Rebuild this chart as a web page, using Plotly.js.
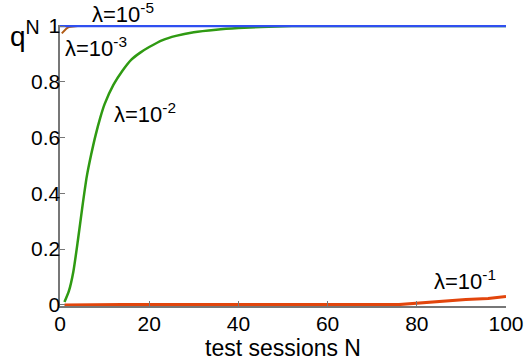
<!DOCTYPE html>
<html>
<head>
<meta charset="utf-8">
<script src="https://cdn.plot.ly/plotly-3.0.1.min.js"></script>
<style>
html,body{margin:0;padding:0;background:#fff;}
#chart{width:526px;height:364px;}
</style>
</head>
<body>
<div id="chart"></div>
<script>
// lambda = 1e-5
const nBlue = [0, 100];
const qBlue = [1, 1];
// lambda = 1e-3
const nBrown = [0.4, 1, 1.5, 2, 4, 100];
const qBrown = [0.974, 0.985, 0.992, 0.997, 1, 1];
// lambda = 1e-2
const nGreen = [1, 2, 3, 4, 5, 6, 7, 8, 9, 10, 12, 14, 16, 18, 20, 23, 26, 30, 35, 40, 45, 52, 60, 100];
const qGreen = [0.01, 0.05, 0.12, 0.23, 0.35, 0.46, 0.54, 0.61, 0.67, 0.72, 0.79, 0.84, 0.88, 0.905, 0.925, 0.95, 0.965, 0.978, 0.987, 0.993, 0.997, 1.0, 1.0, 1.0];
// lambda = 1e-1
const nRed = [1, 14, 76, 80, 86, 91, 96, 100];
const qRed = [0, 0.001, 0.001, 0.006, 0.013, 0.019, 0.023, 0.03];

const xTicks = [0, 20, 40, 60, 80, 100];
const yTicks = [0, 0.2, 0.4, 0.6, 0.8, 1];
const yTickText = ['0', '0.2', '0.4', '0.6', '0.8', '1'];

const labels = ['λ=10<sup>-5</sup>', 'λ=10<sup>-3</sup>', 'λ=10<sup>-2</sup>', 'λ=10<sup>-1</sup>'];
const labelN = [6.7, 0.7, 11.7, 83.4];
const labelQ = [1.046, 0.926, 0.689, 0.088];

const font = 'Liberation Sans, Arial, sans-serif';

const traces = [
  {x: nBrown, y: qBrown, mode: 'lines', line: {color: '#b05a14', width: 2}},
  {x: nGreen, y: qGreen, mode: 'lines', line: {color: '#2f9a12', width: 2.5, shape: 'spline', smoothing: 0.6}},
  {x: nBlue, y: qBlue, mode: 'lines', line: {color: '#2f4ff0', width: 2.5}},
  {x: nRed, y: qRed, mode: 'lines', line: {color: '#e2450c', width: 3}}
];

const M = {l: 60, r: 20, t: 25, b: 58.4};
const plotW = 526 - M.l - M.r, plotH = 364 - M.t - M.b;
const yLo = -0.004, yHi = 1.004;
// data -> paper helpers (so labels above the range are still drawn)
const toPaperX = v => v / 100;
const toPaperY = v => (v - yLo) / (yHi - yLo);

const annotations = labels.map((t, i) => ({
  x: toPaperX(labelN[i]), y: toPaperY(labelQ[i]), xref: 'paper', yref: 'paper', text: t, showarrow: false,
  xanchor: 'left', yanchor: 'middle', font: {family: font, size: 22, color: '#000'}
}));
annotations.push({
  x: (8 - M.l) / plotW, y: (plotH + M.t - 34) / plotH, xref: 'paper', yref: 'paper',
  xanchor: 'left', yanchor: 'middle',
  text: 'q<sup>N</sup>', showarrow: false, font: {family: font, size: 28, color: '#000'}
});

const layout = {
  width: 526, height: 364,
  margin: {l: M.l, r: M.r, t: M.t, b: M.b, pad: 0},
  paper_bgcolor: '#fff', plot_bgcolor: '#fff',
  showlegend: false,
  font: {family: font, size: 21, color: '#000'},
  xaxis: {
    range: [0, 100], tickvals: xTicks, ticks: 'inside', ticklen: 5, tickwidth: 1.2, tickcolor: '#777',
    showline: true, linecolor: '#777', linewidth: 1.6, showgrid: false, zeroline: false,
    ticklabelstandoff: -2,
    tickfont: {family: font, size: 21, color: '#000'},
    title: {text: 'test sessions N', font: {family: font, size: 23, color: '#000'}, standoff: 0}
  },
  yaxis: {
    range: [yLo, yHi], tickvals: yTicks, ticktext: yTickText, ticks: 'inside', ticklen: 5, tickwidth: 1.2, tickcolor: '#777',
    showline: true, linecolor: '#777', linewidth: 1.6, showgrid: false, zeroline: false,
    ticklabelstandoff: -6,
    tickfont: {family: font, size: 21, color: '#000'}
  },
  annotations: annotations
};

Plotly.newPlot('chart', traces, layout, {staticPlot: true, displayModeBar: false});
</script>
</body>
</html>
